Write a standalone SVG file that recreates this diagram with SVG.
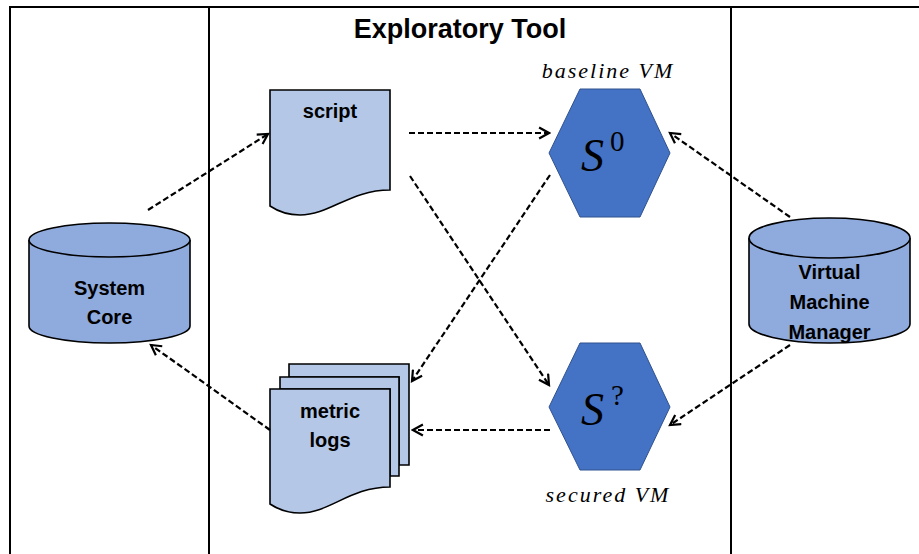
<svg xmlns="http://www.w3.org/2000/svg" width="919" height="554" viewBox="0 0 919 554">
  <style>
    .frame { fill: none; stroke: #000; stroke-width: 2; }
    .doc { fill: #B4C7E7; stroke: #000; stroke-width: 1.6; }
    .cyl { fill: #8FAADC; stroke: #000; stroke-width: 1.6; }
    .hex { fill: #4472C4; stroke: #2F528F; stroke-width: 1; }
    .lbl { font-family: "Liberation Sans", Arial, sans-serif; font-weight: bold; font-size: 20px; fill: #000; text-anchor: middle; }
    .title { font-family: "Liberation Sans", Arial, sans-serif; font-weight: bold; font-size: 27px; fill: #000; text-anchor: middle; }
    .math { font-family: "Liberation Serif", "Times New Roman", serif; fill: #000; }
    .cap { font-size: 22px; font-style: italic; letter-spacing: 2px; text-anchor: middle; }
    .conn { fill: none; stroke: #000; stroke-width: 2.2; stroke-dasharray: 6 3; marker-end: url(#arrow); }
  </style>
  <defs>
    <marker id="arrow" viewBox="0 0 12 12" refX="10" refY="6" markerWidth="6" markerHeight="6" orient="auto" markerUnits="strokeWidth">
      <path d="M1,1 L10,6 L1,11" fill="none" stroke="#000" stroke-width="2"/>
    </marker>
  </defs>

  <rect width="919" height="554" fill="#fff"/>

  <!-- swim-lane frame -->
  <g id="frame">
    <path class="frame" d="M10,554 V7 H919"/>
    <line class="frame" x1="209" y1="7" x2="209" y2="554"/>
    <line class="frame" x1="731" y1="7" x2="731" y2="554"/>
    <text class="title" x="460" y="38">Exploratory Tool</text>
  </g>

  <g id="system-core">
    <path class="cyl" d="M29,240 V326 A80.5,17 0 0 0 190,326 V240"/>
    <ellipse class="cyl" cx="109.5" cy="240" rx="80.5" ry="17"/>
    <text class="lbl" x="109.5" y="295">System</text>
    <text class="lbl" x="109.5" y="324">Core</text>
  </g>

  <g id="vm-manager">
    <path class="cyl" d="M749,238 V324 A80.5,19 0 0 0 910,324 V238"/>
    <ellipse class="cyl" cx="829.5" cy="238" rx="80.5" ry="20"/>
    <text class="lbl" x="829.5" y="279">Virtual</text>
    <text class="lbl" x="829.5" y="309">Machine</text>
    <text class="lbl" x="829.5" y="339">Manager</text>
  </g>

  <g id="script">
    <path class="doc" d="M270,90 H390 V190 C350,190 330,215 300,215 C285,215 276,210 270,206 Z"/>
    <text class="lbl" x="330" y="118">script</text>
  </g>

  <g id="metric-logs">
    <path class="doc" d="M289,364 H409 V465 L399,465 V377 H289 Z"/>
    <path class="doc" d="M280,377 H399 V476 L390,476 V389 H280 Z"/>
    <path class="doc" d="M270,389 H390 V487 C350,487 330,513 300,513 C285,513 276,508 270,504 Z"/>
    <text class="lbl" x="330" y="418">metric</text>
    <text class="lbl" x="330" y="447">logs</text>
  </g>

  <g id="baseline-vm">
    <text class="math cap" x="608" y="78">baseline VM</text>
    <polygon class="hex" points="580,89 640,89 670,153 640,217 580,217 549,153"/>
    <text class="math" x="581" y="171" font-size="46" font-style="italic">S</text>
    <text class="math" x="610" y="151" font-size="29">0</text>
  </g>

  <g id="secured-vm">
    <polygon class="hex" points="580,343 640,343 670,407 640,470 580,470 549,407"/>
    <text class="math" x="581" y="425" font-size="46" font-style="italic">S</text>
    <text class="math" x="611" y="405" font-size="29">?</text>
    <text class="math cap" x="608" y="502">secured VM</text>
  </g>

  <g id="connectors">
    <line class="conn" x1="148" y1="210" x2="268" y2="134"/>
    <line class="conn" x1="409" y1="133" x2="549" y2="133"/>
    <line class="conn" x1="410" y1="176" x2="549" y2="385"/>
    <line class="conn" x1="550" y1="175" x2="412" y2="381"/>
    <line class="conn" x1="550" y1="430" x2="413" y2="430"/>
    <line class="conn" x1="270" y1="430" x2="151" y2="345"/>
    <line class="conn" x1="790" y1="217" x2="670" y2="133"/>
    <line class="conn" x1="790" y1="345" x2="670" y2="425"/>
  </g>
</svg>
